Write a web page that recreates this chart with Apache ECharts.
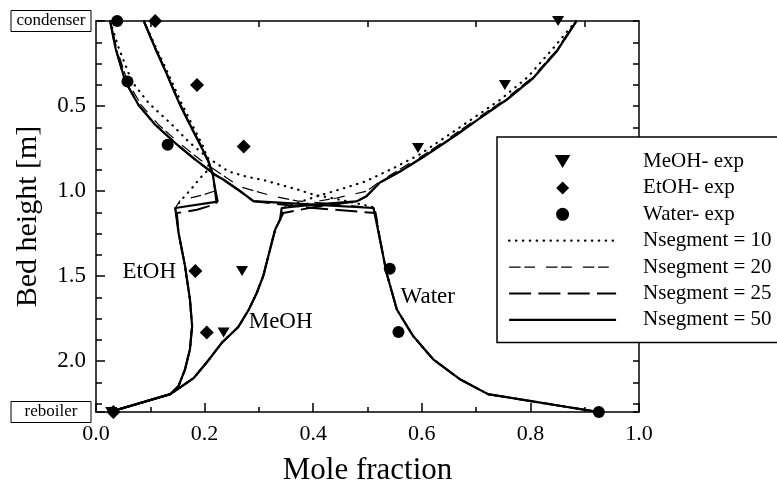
<!DOCTYPE html>
<html>
<head>
<meta charset="utf-8">
<script src="https://cdn.jsdelivr.net/npm/echarts@6/dist/echarts.min.js"></script>
<style>
  html, body { margin: 0; padding: 0; background: #fff; }
  #chart { width: 777px; height: 485px; }
</style>
</head>
<body>
<div id="chart"></div>
<script>
// experimental points [mole fraction, bed height]
var meohExp = [[0.851, 0], [0.753, 0.376], [0.593, 0.747], [0.269, 1.471], [0.235, 1.833], [0.028, 2.3]];
var etohExp = [[0.109, 0], [0.186, 0.376], [0.272, 0.738], [0.183, 1.471], [0.204, 1.833], [0.032, 2.3]];
var waterExp = [[0.039, 0], [0.058, 0.356], [0.132, 0.728], [0.541, 1.458], [0.557, 1.83], [0.926, 2.3]];

// model profiles above the feed, one per Nsegment
var meohUpper10 = [[0.884, 0], [0.842, 0.16], [0.795, 0.33], [0.744, 0.464], [0.695, 0.571], [0.65, 0.669], [0.595, 0.787], [0.545, 0.87], [0.495, 0.945], [0.45, 0.99], [0.41, 1.028], [0.38, 1.06], [0.345, 1.10]];
var meohUpper20 = [[0.884, 0], [0.846, 0.18], [0.802, 0.336], [0.752, 0.464], [0.703, 0.571], [0.659, 0.669], [0.604, 0.787], [0.553, 0.885], [0.52, 0.95], [0.498, 1.002], [0.443, 1.041], [0.40, 1.065], [0.345, 1.10]];
var meohUpper25 = [[0.885, 0], [0.848, 0.18], [0.805, 0.336], [0.756, 0.464], [0.707, 0.571], [0.664, 0.669], [0.609, 0.787], [0.56, 0.885], [0.523, 0.95], [0.498, 1.031], [0.48, 1.061], [0.40, 1.095], [0.345, 1.13]];
var meohUpper50 = [[0.885, 0], [0.848, 0.18], [0.805, 0.336], [0.756, 0.464], [0.707, 0.571], [0.664, 0.669], [0.609, 0.787], [0.56, 0.885], [0.523, 0.95], [0.498, 1.031], [0.48, 1.061], [0.40, 1.08], [0.342, 1.10]];

var etohUpper10 = [[0.088, 0], [0.111, 0.16], [0.134, 0.317], [0.156, 0.474], [0.177, 0.61], [0.196, 0.728], [0.208, 0.83], [0.205, 0.88], [0.192, 0.923], [0.177, 0.982], [0.158, 1.05], [0.146, 1.10]];
var etohUpper20 = [[0.088, 0], [0.11, 0.16], [0.132, 0.317], [0.153, 0.474], [0.174, 0.61], [0.193, 0.728], [0.208, 0.826], [0.216, 0.9], [0.219, 1.0], [0.195, 1.025], [0.155, 1.055], [0.146, 1.10]];
var etohUpper25 = [[0.088, 0], [0.109, 0.16], [0.131, 0.317], [0.152, 0.474], [0.173, 0.61], [0.192, 0.728], [0.207, 0.826], [0.215, 0.904], [0.219, 0.99], [0.222, 1.075], [0.186, 1.11], [0.149, 1.13]];
var etohUpper50 = [[0.088, 0], [0.109, 0.16], [0.131, 0.317], [0.152, 0.474], [0.173, 0.61], [0.192, 0.728], [0.207, 0.826], [0.215, 0.904], [0.219, 0.982], [0.224, 1.062], [0.146, 1.10]];

var waterUpper10 = [[0.026, 0], [0.042, 0.16], [0.066, 0.356], [0.097, 0.483], [0.14, 0.61], [0.17, 0.708], [0.204, 0.8], [0.244, 0.885], [0.275, 0.914], [0.311, 0.938], [0.339, 0.963], [0.37, 0.99], [0.40, 1.021], [0.44, 1.045], [0.505, 1.09], [0.513, 1.10]];
var waterUpper20 = [[0.026, 0], [0.038, 0.16], [0.058, 0.356], [0.083, 0.493], [0.115, 0.61], [0.153, 0.718], [0.192, 0.816], [0.23, 0.9], [0.265, 0.975], [0.327, 1.031], [0.37, 1.058], [0.45, 1.08], [0.512, 1.10]];
var waterUpper25 = [[0.026, 0], [0.036, 0.16], [0.054, 0.356], [0.078, 0.493], [0.109, 0.61], [0.146, 0.718], [0.183, 0.816], [0.219, 0.904], [0.235, 0.934], [0.265, 1.0], [0.29, 1.06], [0.40, 1.10], [0.515, 1.13]];
var waterUpper50 = [[0.026, 0], [0.036, 0.16], [0.054, 0.356], [0.078, 0.493], [0.109, 0.61], [0.146, 0.718], [0.183, 0.816], [0.219, 0.904], [0.235, 0.934], [0.265, 1.0], [0.29, 1.06], [0.40, 1.08], [0.511, 1.10]];

// below the feed all four profiles lie on top of each other
var meohLower = [[0.339, 1.168], [0.33, 1.227], [0.324, 1.3], [0.316, 1.4], [0.308, 1.5], [0.296, 1.6], [0.281, 1.7], [0.262, 1.8], [0.232, 1.892], [0.206, 2.0], [0.18, 2.1], [0.137, 2.195], [0.025, 2.3]];
var etohLower = [[0.152, 1.246], [0.164, 1.442], [0.173, 1.638], [0.177, 1.795], [0.173, 1.931], [0.164, 2.049], [0.152, 2.147], [0.137, 2.195], [0.025, 2.3]];
var waterLower = [[0.523, 1.286], [0.535, 1.481], [0.554, 1.697], [0.584, 1.853], [0.621, 1.99], [0.67, 2.107], [0.722, 2.195], [0.925, 2.3]];

var curveLabelPos = [[0.098, 1.474], [0.34, 1.768], [0.611, 1.624]];
var curveLabelText = ['EtOH', 'MeOH', 'Water'];

var segNames = ['Nsegment = 10', 'Nsegment = 20', 'Nsegment = 25', 'Nsegment = 50'];
var expNames = ['MeOH- exp', 'EtOH- exp', 'Water- exp'];

var FONT = "'Liberation Serif', 'DejaVu Serif', serif";
var TRI = 'path://M0,0L12,0L6,10Z';
var DIAMOND = 'path://M6,0L12,6L6,12L0,6Z';

var segStyles = [
    { color: '#000', width: 2.2, type: [0.4, 6.5], cap: 'round' },
    { color: '#000', width: 1.2, type: [11.5, 3.7, 10.7, 11] },
    { color: '#000', width: 2, type: [22, 7.3] },
    { color: '#000', width: 2.2, type: 'solid' }
];

var uppers = [
    [meohUpper10, etohUpper10, waterUpper10],
    [meohUpper20, etohUpper20, waterUpper20],
    [meohUpper25, etohUpper25, waterUpper25],
    [meohUpper50, etohUpper50, waterUpper50]
];
var lowers = [meohLower, etohLower, waterLower];

var series = [];
segNames.forEach(function (name, i) {
    uppers[i].forEach(function (up, c) {
        series.push({
            name: name,
            type: 'line',
            data: up.concat(lowers[c]),
            symbol: 'none',
            lineStyle: segStyles[i],
            itemStyle: { color: '#000' },
            z: 2
        });
    });
});

var dotStyle = { color: '#000', opacity: 1 };
series.push({
    name: expNames[0], type: 'scatter', data: meohExp,
    symbol: TRI, symbolSize: [12, 10], itemStyle: dotStyle, z: 5
});
series.push({
    name: expNames[1], type: 'scatter', data: etohExp,
    symbol: 'diamond', symbolSize: 14, itemStyle: dotStyle, z: 5
});
series.push({
    name: expNames[2], type: 'scatter', data: waterExp,
    symbol: 'circle', symbolSize: 12, itemStyle: dotStyle, z: 5
});

// curve names written inside the plot
series.push({
    type: 'scatter',
    data: curveLabelPos.map(function (p, i) { return [p[0], p[1], curveLabelText[i]]; }),
    symbolSize: 1,
    itemStyle: { color: 'rgba(0,0,0,0)', opacity: 1 },
    silent: true,
    label: {
        show: true, position: 'inside', color: '#000', opacity: 1,
        fontFamily: FONT, fontSize: 23,
        formatter: function (p) { return p.value[2]; }
    },
    z: 6
});

var axisLineStyle = { color: '#000', width: 1.5 };

var chart = echarts.init(document.getElementById('chart'), null, { renderer: 'canvas' });
chart.setOption({
    animation: false,
    backgroundColor: '#fff',
    grid: { left: 96, right: 138, top: 21, bottom: 73, outerBoundsMode: 'none' },
    legend: {
        orient: 'vertical',
        left: 497,
        top: 137,
        itemWidth: 107,
        itemHeight: 13,
        itemGap: 5.4,
        padding: [14, 30, 12, 11],
        borderColor: '#000',
        borderWidth: 1.5,
        backgroundColor: '#fff',
        selectedMode: false,
        textStyle: { fontFamily: FONT, fontSize: 21, color: '#000', padding: [0, 0, 0, 22] },
        data: [
            { name: expNames[0], icon: TRI, itemStyle: { opacity: 1 } },
            { name: expNames[1], icon: DIAMOND, itemStyle: { opacity: 1 } },
            { name: expNames[2], icon: 'circle', itemStyle: { opacity: 1 } }
        ].concat(segNames.map(function (n, i) {
            return { name: n, itemStyle: { opacity: 0 }, lineStyle: segStyles[i] };
        }))
    },
    xAxis: [{
        type: 'value', min: 0, max: 1, interval: 0.2, position: 'bottom',
        axisLine: { onZero: false, lineStyle: axisLineStyle },
        axisTick: { inside: true, length: 9, lineStyle: axisLineStyle },
        minorTick: { show: true, splitNumber: 2, length: 5, lineStyle: axisLineStyle },
        splitLine: { show: false },
        axisLabel: {
            color: '#000', fontFamily: FONT, fontSize: 22, margin: 11,
            formatter: function (v) { return v.toFixed(1); }
        },
        name: 'Mole fraction', nameLocation: 'middle', nameGap: 43, nameMoveOverlap: false,
        nameTextStyle: { color: '#000', fontFamily: FONT, fontSize: 31 }
    }, {
        type: 'value', min: 0, max: 1, interval: 0.2, position: 'top',
        axisLine: { onZero: false, lineStyle: axisLineStyle },
        axisTick: { show: false, inside: true },
        minorTick: { show: true, splitNumber: 2, length: 6, lineStyle: axisLineStyle },
        splitLine: { show: false },
        axisLabel: { show: false }
    }],
    yAxis: [{
        type: 'value', min: 0, max: 2.3, interval: 0.5, inverse: true, position: 'left',
        axisLine: { onZero: false, lineStyle: axisLineStyle },
        axisTick: { inside: true, length: 9, lineStyle: axisLineStyle },
        splitLine: { show: false },
        axisLabel: {
            color: '#000', fontFamily: FONT, margin: 5,
            showMinLabel: true, showMaxLabel: true,
            formatter: function (v) {
                if (v === 0) return '{box|condenser}';
                if (Math.abs(v - 2.3) < 1e-6) return '{box|reboiler}';
                return '{n|' + v.toFixed(1) + '}';
            },
            rich: {
                box: {
                    fontFamily: FONT, fontSize: 17, lineHeight: 17, color: '#000',
                    width: 70, align: 'center', padding: [2, 5, 2, 5],
                    borderColor: '#000', borderWidth: 1
                },
                n: { fontFamily: FONT, fontSize: 23, color: '#000', padding: [0, 5, 0, 0] }
            }
        },
        name: 'Bed height [m]', nameLocation: 'middle', nameGap: 53, nameMoveOverlap: false,
        nameTextStyle: { color: '#000', fontFamily: FONT, fontSize: 30 }
    }, {
        type: 'value', min: 0, max: 2.3, interval: 0.125, inverse: true, position: 'left',
        axisLine: { show: false },
        axisTick: { inside: true, length: 6, lineStyle: axisLineStyle },
        splitLine: { show: false },
        axisLabel: { show: false }
    }, {
        type: 'value', min: 0, max: 2.3, interval: 0.125, inverse: true, position: 'right',
        axisLine: { onZero: false, lineStyle: axisLineStyle },
        axisTick: { inside: true, length: 6, lineStyle: axisLineStyle },
        splitLine: { show: false },
        axisLabel: { show: false }
    }],
    series: series
});
</script>
</body>
</html>
